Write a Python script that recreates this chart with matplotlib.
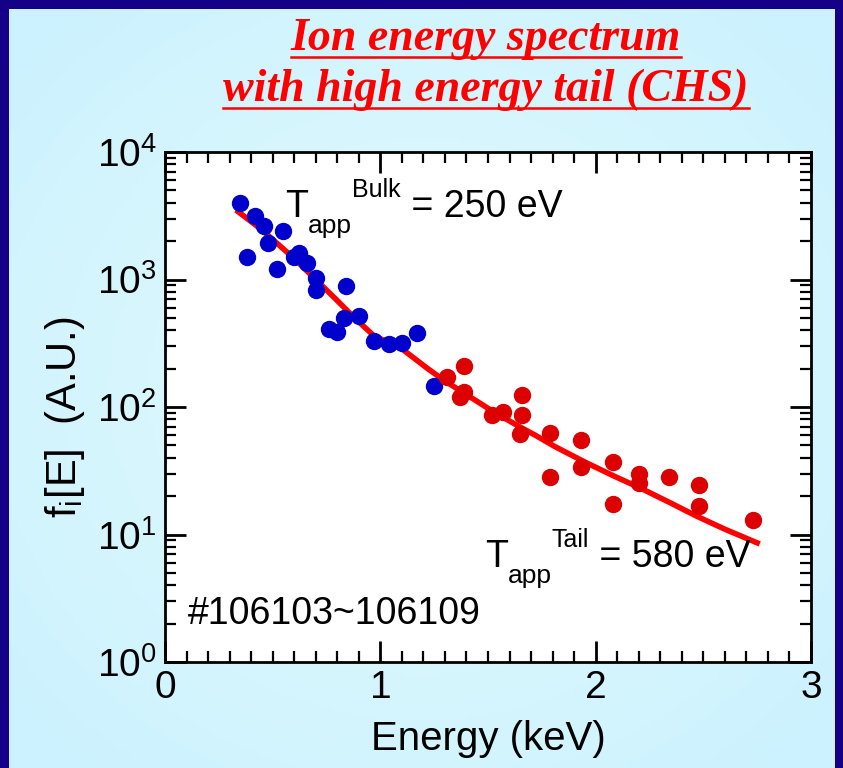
import numpy as np
import matplotlib.pyplot as plt
from matplotlib.ticker import LogLocator, MultipleLocator, NullFormatter
from matplotlib.lines import Line2D

# bulk ions (blue) and tail ions (red), energy in keV
bulk_e = [0.35, 0.38, 0.42, 0.46, 0.48, 0.52, 0.55, 0.60, 0.62, 0.66, 0.70, 0.70,
          0.84, 0.76, 0.80, 0.83, 0.90, 0.97, 1.04, 1.10, 1.17, 1.25]
bulk_f = [4000, 1500, 3150, 2650, 1950, 1200, 2400, 1500, 1600, 1350, 1020, 830,
          890, 410, 390, 500, 520, 330, 310, 315, 380, 145]
tail_e = [1.31, 1.39, 1.37, 1.39, 1.52, 1.57, 1.66, 1.66, 1.65, 1.79, 1.79, 1.93,
          1.93, 2.08, 2.08, 2.20, 2.20, 2.34, 2.48, 2.48, 2.73]
tail_f = [172, 210, 120, 131, 87, 91, 124, 87, 61, 62, 28.5, 55,
          34, 37, 17.5, 30, 25.5, 28.5, 24.5, 16.6, 13.1]

# smoothed fit through the spectrum
fit_e = [0.34, 0.45, 0.60, 0.70, 0.79, 0.88, 0.97, 1.10, 1.22, 1.30, 1.41, 1.52,
         1.64, 1.72, 1.81, 1.95, 2.08, 2.22, 2.35, 2.47, 2.60, 2.75]
fit_f = [3400, 2450, 1460, 1000, 710, 500, 362, 286, 200, 160, 122, 93,
         71, 60, 49, 37, 29, 22.6, 17.6, 13.9, 11.0, 8.6]

xticks = [0, 1, 2, 3]
title_lines = ["Ion energy spectrum", "with high energy tail (CHS)"]

W, H = 843, 768

plt.rcParams["font.family"] = ["Liberation Sans", "DejaVu Sans"]
plt.rcParams["mathtext.fontset"] = "custom"
plt.rcParams["mathtext.rm"] = "Liberation Sans"
plt.rcParams["mathtext.default"] = "regular"

fig = plt.figure(figsize=(W / 100, H / 100), dpi=100)
fig.patch.set_facecolor("#150088")

# light cyan panel with a soft lighter middle
bg = fig.add_axes([9 / W, 0, 826 / W, 759 / H])
gx = np.linspace(-1, 1, 200)
gy = np.linspace(-1, 1, 200)
gxx, gyy = np.meshgrid(gx, gy)
shade = np.clip(1 - 0.6 * (gxx ** 2 + gyy ** 2), 0, 1)
c0 = np.array([0.80, 0.95, 1.00])
c1 = np.array([0.86, 0.97, 0.99])
img = c0 + (c1 - c0) * shade[..., None]
bg.imshow(img, aspect="auto", extent=[0, 1, 0, 1])
bg.set_axis_off()

ax = fig.add_axes([165 / W, 106 / H, 646 / W, 510 / H])
ax.set_facecolor("white")
ax.set_yscale("log")
ax.set_xlim(0, 3)
ax.set_ylim(1, 1e4)

ax.plot(fit_e, fit_f, color="#ff0000", lw=4, zorder=2)
ax.plot(bulk_e, bulk_f, "o", ms=11.5, color="#0000cc", mec="#0000cc", zorder=3)
ax.plot(tail_e, tail_f, "o", ms=11.5, color="#dd0000", mec="#dd0000", zorder=3)

ax.set_xticks(xticks)
ax.xaxis.set_minor_locator(MultipleLocator(0.1))
ax.yaxis.set_major_locator(LogLocator(base=10, numticks=10))
ax.yaxis.set_minor_locator(LogLocator(base=10, subs=np.arange(2, 10), numticks=10))
ax.yaxis.set_minor_formatter(NullFormatter())
ax.tick_params(which="both", direction="in", top=True, right=True, labelsize=28,
               width=2, color="black")
ax.tick_params(which="major", length=15, pad=6)
ax.tick_params(which="minor", length=8, width=1.6)
for s in ax.spines.values():
    s.set_linewidth(2)

ax.set_xlabel("Energy (keV)", fontsize=29, labelpad=10)
ax.set_ylabel(r"f$_{i}$[E]  (A.U.)", fontsize=30, labelpad=14)
ax.yaxis.set_label_coords(-0.12, 0.48)

ax.text(0.035, 0.095, "#106103~106109", transform=ax.transAxes,
        fontsize=27, va="center", ha="left")

renderer = fig.canvas.get_renderer()


def temp_label(x, y, sup, rest):
    # T with "app" below, the upper tag after it, then the value; x, y in pixels from top-left
    t = fig.text(x / W, 1 - y / H, "T", fontsize=27, va="baseline")
    x1 = t.get_window_extent(renderer).x1
    s = fig.text(x1 / W, 1 - (y + 16) / H, "app", fontsize=19, va="baseline")
    x2 = s.get_window_extent(renderer).x1
    p = fig.text(x2 / W, 1 - (y - 20) / H, sup, fontsize=18, va="baseline")
    x3 = p.get_window_extent(renderer).x1
    fig.text(x3 / W, 1 - y / H, " " + rest, fontsize=27, va="baseline")


temp_label(285, 217, "Bulk", "= 250 eV")
temp_label(485, 567, "Tail", "= 580 eV")

# underlined red title
for i, line in enumerate(title_lines):
    y = 1 - (39 + 51 * i) / H
    t = fig.text(486 / W, y, line, ha="center", va="center", color="#ff0000",
                 fontsize=33, fontweight="bold", fontstyle="italic",
                 family=["Liberation Serif", "DejaVu Serif"])
    bb = t.get_window_extent(renderer)
    uy = bb.y0 + 3
    fig.add_artist(Line2D([bb.x0 / W, bb.x1 / W], [uy / H, uy / H],
                          color="#ff0000", lw=1.8, transform=fig.transFigure))

fig.savefig("out.png", dpi=100, facecolor=fig.get_facecolor())
